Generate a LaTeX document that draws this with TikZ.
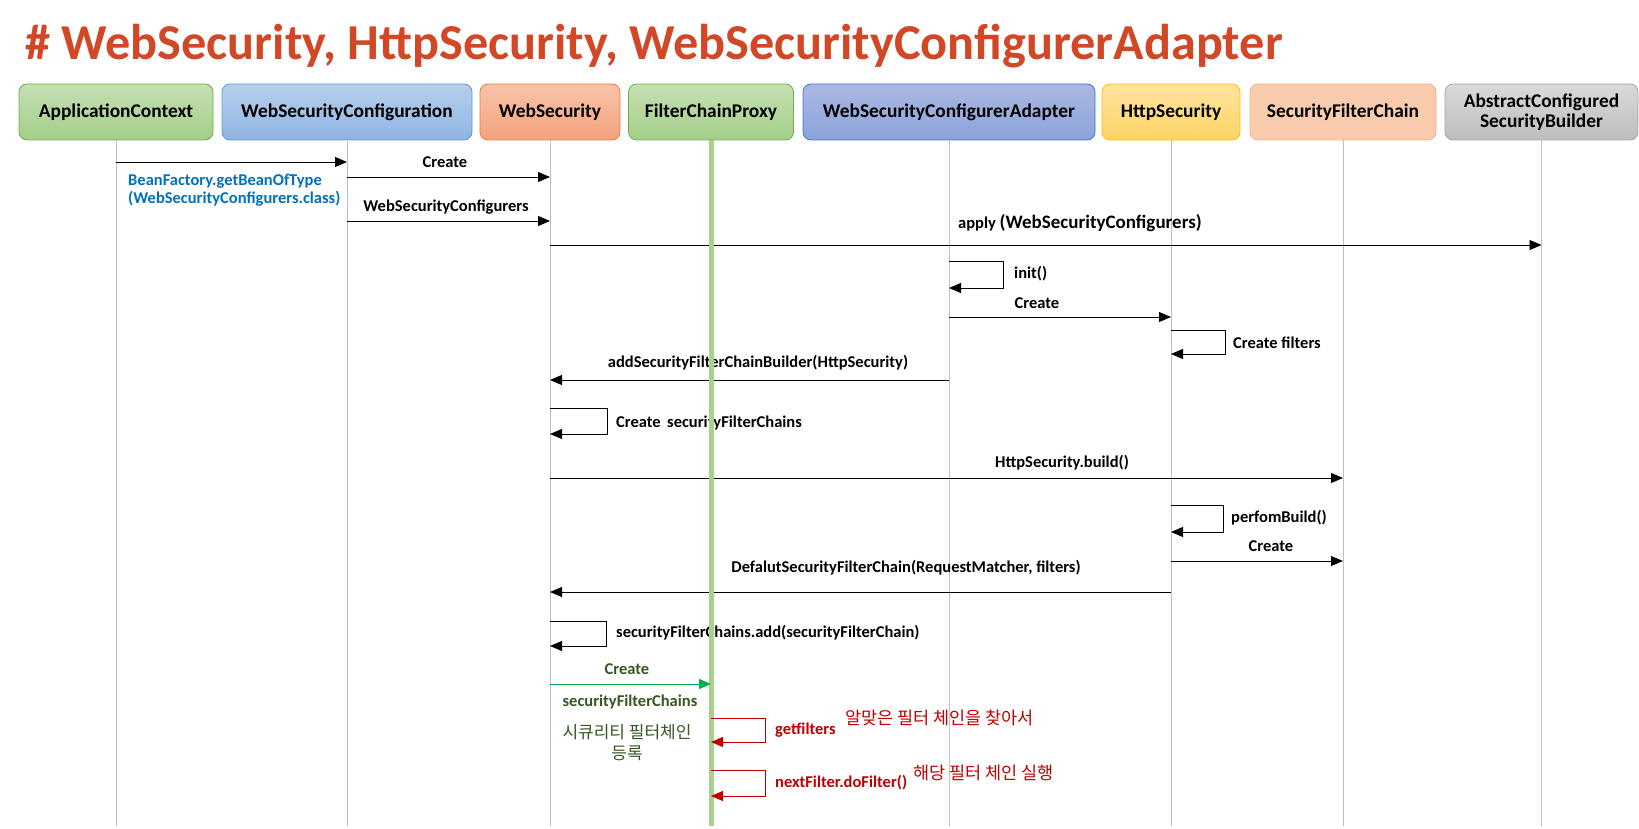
\documentclass[tikz,border=0pt]{standalone}
\usepackage{fontspec}
\setmainfont{Carlito}
\newfontfamily\krfont{Noto Sans CJK KR}
\usetikzlibrary{arrows.meta}

\definecolor{titlered}{HTML}{D24726}
\definecolor{lifegray}{HTML}{BFBFBF}
\definecolor{proxygreen}{HTML}{A9D18E}
\definecolor{msgblue}{HTML}{0070C0}
\definecolor{msggreen}{HTML}{00B050}
\definecolor{textgreen}{HTML}{375623}
\definecolor{msgred}{HTML}{C00000}
% Kopfboxen
\definecolor{greentop}{HTML}{C5E0B4}
\definecolor{greenbot}{HTML}{A3CE88}
\definecolor{greenline}{HTML}{70AD47}
\definecolor{bluetop}{HTML}{B7CFEC}
\definecolor{bluebot}{HTML}{8EB4E3}
\definecolor{blueline}{HTML}{5B9BD5}
\definecolor{orangetop}{HTML}{F8C3A8}
\definecolor{orangebot}{HTML}{F4A27E}
\definecolor{orangeline}{HTML}{ED7D31}
\definecolor{indigotop}{HTML}{AAB8E2}
\definecolor{indigobot}{HTML}{8CA3DA}
\definecolor{indigoline}{HTML}{4472C4}
\definecolor{yellowtop}{HTML}{FFE3A0}
\definecolor{yellowbot}{HTML}{FFD464}
\definecolor{yellowline}{HTML}{FFC000}
\definecolor{peachfill}{HTML}{F8CBAD}
\definecolor{peachline}{HTML}{F4B183}
\definecolor{graytop}{HTML}{DADADA}
\definecolor{graybot}{HTML}{BDBDBD}
\definecolor{grayline}{HTML}{A5A5A5}

\begin{document}
\begin{tikzpicture}[x=1pt, y=-1pt,
	font=\bfseries\fontsize{16.5}{18}\selectfont,
	hdr/.style={draw, line width=0.8pt, rounded corners=8pt, minimum height=56pt, inner sep=2pt, align=center, font=\bfseries\fontsize{19.4}{20}\selectfont},
	life/.style={draw=lifegray, line width=1pt},
	msg/.style={-{Triangle[length=12pt,width=10pt]}, line width=0.9pt},
	lbl/.style={inner sep=0pt, anchor=mid, yshift=-3.5pt},
	lblw/.style={inner sep=0pt, anchor=mid west, yshift=-3.5pt},
	kr/.style={font=\krfont\fontsize{17.5}{21}\selectfont}]
	\useasboundingbox (0,0) rectangle (1639,829);

	% Titel
	\node[inner sep=0pt, anchor=west, text=titlered, font=\bfseries\fontsize{50.3}{54}\selectfont] (title) at (25,46) {\# WebSecurity, HttpSecurity, WebSecurityConfigurerAdapter};

	% Kopfzeile
	\node[hdr, draw=greenline, top color=greentop, bottom color=greenbot, minimum width=194pt] (ac) at (116,112) {ApplicationContext};
	\node[hdr, draw=blueline, top color=bluetop, bottom color=bluebot, minimum width=250pt] (wsc) at (347,112) {WebSecurityConfiguration};
	\node[hdr, draw=orangeline, top color=orangetop, bottom color=orangebot, minimum width=140pt] (ws) at (550,112) {WebSecurity};
	\node[hdr, draw=greenline, top color=greentop, bottom color=greenbot, minimum width=165pt] (fcp) at (711,112) {FilterChainProxy};
	\node[hdr, draw=indigoline, top color=indigotop, bottom color=indigobot, minimum width=292pt] (wsca) at (949,112) {WebSecurityConfigurerAdapter};
	\node[hdr, draw=yellowline, top color=yellowtop, bottom color=yellowbot, minimum width=138pt] (hs) at (1171,112) {HttpSecurity};
	\node[hdr, draw=peachline, fill=peachfill, minimum width=186pt] (sfc) at (1343,112) {SecurityFilterChain};
	\node[hdr, draw=grayline, top color=graytop, bottom color=graybot, minimum width=193pt] (asb) at (1541.5,112) {AbstractConfigured\\SecurityBuilder};

	% Lebenslinien
	\foreach \n in {ac,wsc,ws,wsca,hs,sfc,asb}
		\draw[life] (\n.south) -- (\n.south |- 0,826);

	% Nachrichten
	\draw[msg] (ac.south |- 0,162) -- (wsc.south |- 0,162);
	\node[inner sep=0pt, anchor=west, align=left, text=msgblue] (beanlbl) at (128,190) {BeanFactory.getBeanOfType\\(WebSecurityConfigurers.class)};

	\draw[msg] (wsc.south |- 0,177) -- (ws.south |- 0,177);
	\node[lbl] (create1) at (445,162) {Create};
	\draw[msg] (wsc.south |- 0,221) -- (ws.south |- 0,221);
	\node[lbl] (configurers) at (446,206) {WebSecurityConfigurers};

	\draw[msg] (ws.south |- 0,245) -- (asb.south |- 0,245);
	\node[lbl, yshift=1pt] (apply) at (1080,224) {apply {\fontsize{19}{20}\selectfont(WebSecurityConfigurers)}};

	\draw[msg] (wsca.south |- 0,261) -- (1003,261) |- (wsca.south |- 0,288);
	\node[lblw] (init) at (1014,273) {init()};

	\draw[msg] (wsca.south |- 0,317) -- (hs.south |- 0,317);
	\node[lbl] (create2) at (1037,303) {Create};

	\draw[msg] (hs.south |- 0,330) -- (1225,330) |- (hs.south |- 0,354);
	\node[lblw] (filters) at (1233,343) {Create filters};

	\draw[msg] (wsca.south |- 0,380) -- (ws.south |- 0,380);
	\node[lbl] (addbuilder) at (758,362) {addSecurityFilterChainBuilder(HttpSecurity)};

	\draw[msg] (ws.south |- 0,408) -- (607,408) |- (ws.south |- 0,434);
	\node[lblw] (create3) at (616,422) {Create};
	\node[lblw] (chains1) at (667,422) {securityFilterChains};

	\draw[msg] (ws.south |- 0,478) -- (sfc.south |- 0,478);
	\node[lbl] (build) at (1062,462) {HttpSecurity.build()};

	\draw[msg] (hs.south |- 0,505) -- (1223,505) |- (hs.south |- 0,532);
	\node[lblw] (perform) at (1231,517) {perfomBuild()};

	\draw[msg] (hs.south |- 0,561) -- (sfc.south |- 0,561);
	\node[lbl] (create4) at (1271,546) {Create};

	\draw[msg] (hs.south |- 0,592) -- (ws.south |- 0,592);
	\node[lbl] (defchain) at (906,567) {DefalutSecurityFilterChain(RequestMatcher, filters)};

	\draw[msg] (ws.south |- 0,621) -- (606,621) |- (ws.south |- 0,646);
	\node[lblw] (addchain) at (616,632) {securityFilterChains.add(securityFilterChain)};

	% FilterChainProxy
	\draw[draw=proxygreen, line width=5pt] (fcp.south) -- (fcp.south |- 0,826);

	\draw[msg, color=msggreen] (ws.south |- 0,684) -- (fcp.south |- 0,684);
	\node[lbl, text=textgreen] (create5) at (627,669) {Create};
	\node[lbl, text=textgreen] (chains2) at (630,701) {securityFilterChains};
	\node[inner sep=0pt, align=center, text=textgreen, kr, font=\krfont\fontsize{17}{21}\selectfont] (register) at (627,743) {시큐리티 필터체인\\등록};

	\draw[msg, color=msgred] (fcp.south |- 0,718) -- (765,718) |- (fcp.south |- 0,742);
	\node[lblw, text=msgred] (getfilters) at (775,729) {getfilters};
	\node[lblw, text=msgred, kr, yshift=1pt] (findnote) at (845,720) {알맞은 필터 체인을 찾아서};

	\draw[msg, color=msgred] (fcp.south |- 0,770) -- (765,770) |- (fcp.south |- 0,796);
	\node[lblw, text=msgred] (dofilter) at (775,782) {nextFilter.doFilter()};
	\node[lblw, text=msgred, kr, yshift=1pt] (runnote) at (913,775) {해당 필터 체인 실행};
\end{tikzpicture}
\end{document}
